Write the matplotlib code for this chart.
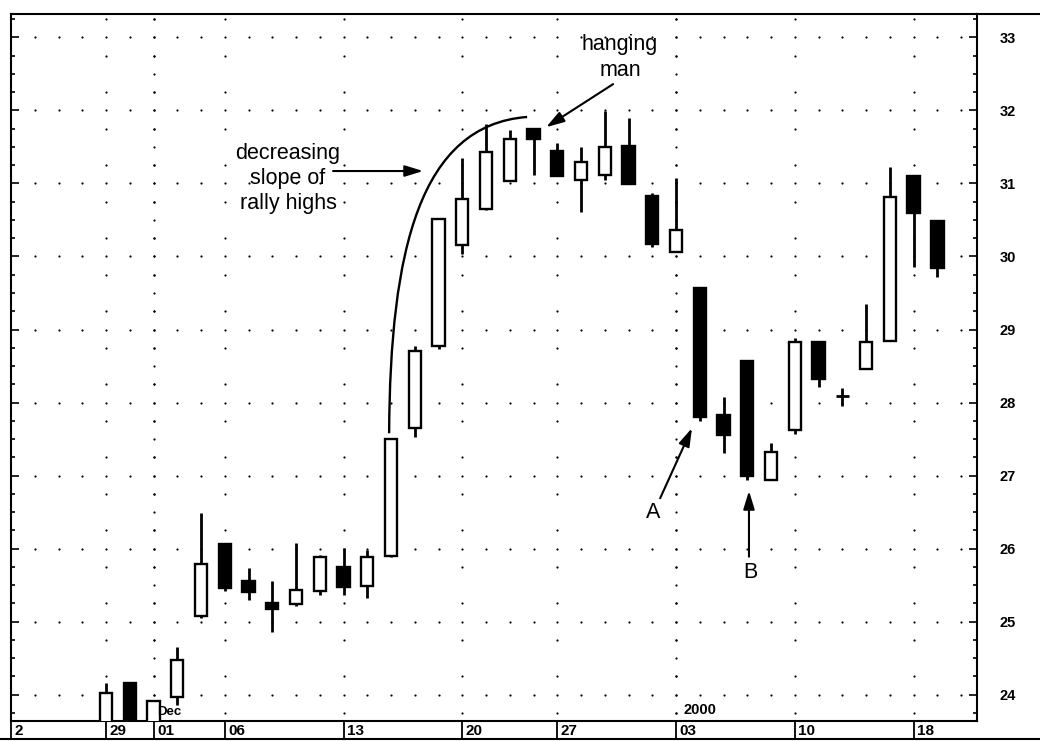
import matplotlib
matplotlib.use('Agg')
import matplotlib.pyplot as plt
import matplotlib.transforms as mtransforms
from matplotlib.path import Path
from matplotlib.patches import PathPatch
from matplotlib.lines import Line2D
import numpy as np

plt.rcParams['font.family'] = ['Liberation Sans', 'DejaVu Sans']

# trading day index, 0 = Mon 29 Nov 1999 (holidays skipped)
opens  = [23.50, 24.16, 23.50, 23.97, 25.08, 26.07, 25.56, 25.26, 25.24, 25.42,
          25.75, 25.49, 25.90, 27.65, 28.77, 30.16, 30.65, 31.03, 31.74, 31.44,
          31.05, 31.11, 31.51, 30.83, 30.06, 29.57, 27.83, 28.57, 26.94, 27.63,
          28.83, 28.09, 28.46, 28.84, 31.10, 30.48]
highs  = [24.16, 24.18, 23.92, 24.66, 26.49, 26.07, 25.74, 25.56, 26.08, 25.91,
          26.01, 25.98, 27.52, 28.77, 30.51, 31.35, 31.81, 31.73, 31.74, 31.56,
          31.50, 31.99, 31.89, 30.87, 31.07, 29.57, 28.08, 28.57, 27.45, 28.88,
          28.83, 28.20, 29.35, 31.22, 31.10, 30.48]
lows   = [23.40, 23.40, 23.45, 23.86, 25.05, 25.42, 25.30, 24.86, 25.22, 25.37,
          25.37, 25.33, 25.88, 27.53, 28.73, 30.03, 30.63, 31.03, 31.11, 31.10,
          30.61, 31.05, 30.99, 30.13, 30.06, 27.75, 27.31, 26.94, 26.94, 27.57,
          28.21, 27.95, 28.46, 28.84, 29.85, 29.72]
closes = [24.03, 23.50, 23.92, 24.47, 25.79, 25.46, 25.41, 25.18, 25.44, 25.89,
          25.48, 25.89, 27.50, 28.71, 30.51, 30.79, 31.43, 31.61, 31.61, 31.10,
          31.29, 31.50, 30.99, 30.17, 30.36, 27.80, 27.56, 27.00, 27.32, 28.83,
          28.32, 28.09, 28.83, 30.81, 30.59, 29.84]

week_idx = [-4, 0, 2, 5, 10, 15, 19, 24, 29, 34]
week_lbl = ['2', '29', '01', '06', '13', '20', '27', '03', '10', '18']
month_idx = [2, 24]
price_ticks = [24, 25, 26, 27, 28, 29, 30, 31, 32, 33]

x = np.arange(len(opens))
o = np.array(opens); c = np.array(closes)
h = np.array(highs); l = np.array(lows)

fig = plt.figure(figsize=(10.4, 7.41), dpi=100)
ax = fig.add_axes([11/1040, 1 - 721/741, 966/1040, 707/741])
ax.set_xlim(-4.0, 36.67)
ax.set_ylim(23.64, 33.32)

# dotted grid: daily dots on whole prices, half-points on week starts, quarters on month starts
days = np.arange(-3, 37)
gx, gy = np.meshgrid(days, price_ticks)
ax.scatter(gx.ravel(), gy.ravel(), s=2.5, c='k', linewidths=0, zorder=1)
halfs = np.arange(23.75, 33.3, 0.5)
for w in week_idx[1:]:
    ax.scatter(np.full(len(halfs), w), halfs, s=2.5, c='k', linewidths=0, zorder=1)
quarters = np.arange(23.75, 33.3, 0.25)
for m in month_idx:
    ax.scatter(np.full(len(quarters), m), quarters, s=2.5, c='k', linewidths=0, zorder=1)

# candles
ax.vlines(x, l, h, color='k', lw=2.0, zorder=2)
up = c > o
doji = c == o
bw = 0.52
ax.bar(x[up], (c - o)[up], bottom=o[up], width=bw, color='white', edgecolor='k', linewidth=1.7, zorder=3)
dn = (~up) & (~doji)
ax.bar(x[dn], (o - c)[dn], bottom=c[dn], width=bw, color='k', edgecolor='k', linewidth=1.7, zorder=3)
ax.hlines(c[doji], x[doji] - bw / 2, x[doji] + bw / 2, color='k', lw=2.0, zorder=3)

# curve of rally highs
verts = [(11.92, 27.58), (11.96, 30.09), (13.22, 31.80), (17.73, 31.91)]
ax.add_patch(PathPatch(Path(verts, [Path.MOVETO, Path.CURVE4, Path.CURVE4, Path.CURVE4]),
                       fill=False, lw=1.7, color='k', zorder=4))

aprops = dict(arrowstyle='-|>,head_length=0.55,head_width=0.17', lw=1.5, color='k',
              mutation_scale=20, shrinkA=0, shrinkB=0)
ax.annotate('', xy=(18.53, 31.77), xytext=(21.35, 32.36), arrowprops=aprops)
ax.annotate('', xy=(13.35, 31.17), xytext=(9.56, 31.17), arrowprops=aprops)
ax.annotate('', xy=(24.67, 27.65), xytext=(23.33, 26.69), arrowprops=aprops)
ax.annotate('', xy=(27.07, 26.79), xytext=(27.07, 25.89), arrowprops=aprops)

ax.text(21.64, 32.72, 'hanging\nman', fontsize=15.5, ha='center', va='center', linespacing=1.3)
ax.text(7.66, 31.07, 'decreasing\nslope of\nrally highs', fontsize=15.5, ha='center', va='center',
        linespacing=1.25)
ax.text(23.03, 26.49, 'A', fontsize=15.5, ha='center', va='center')
ax.text(27.12, 25.67, 'B', fontsize=15.5, ha='center', va='center')

# axes
for s in ax.spines.values():
    s.set_linewidth(1.5)
ax.yaxis.tick_right()
ax.set_yticks(price_ticks)
ax.set_yticks(np.arange(23.75, 33.3, 0.25), minor=True)
ax.tick_params(axis='y', which='both', direction='in', left=True, right=True, width=1.2)
ax.tick_params(axis='y', which='major', length=6, labelsize=10.5, pad=16)
ax.tick_params(axis='y', which='minor', length=3)
for t in ax.get_yticklabels():
    t.set_fontweight('bold')

ax.set_xticks(week_idx)
ax.set_xticklabels(week_lbl)
ax.tick_params(axis='x', direction='out', length=14, width=1.3, labelsize=11, pad=-12)
off = mtransforms.ScaledTranslation(2.5 / 72, 0, fig.dpi_scale_trans)
for t in ax.get_xticklabels():
    t.set_fontweight('bold')
    t.set_horizontalalignment('left')
    t.set_transform(t.get_transform() + off)

blend = mtransforms.blended_transform_factory(ax.transData, ax.transAxes)
ax.text(2.15, 0.004, 'Dec', transform=blend, fontsize=9.5, fontweight='bold', va='bottom', ha='left')
ax.text(24.3, 0.006, '2000', transform=blend, fontsize=10.5, fontweight='bold', va='bottom', ha='left')

fig.add_artist(Line2D([0, 1], [0.003, 0.003], color='k', lw=1.5))
fig.add_artist(Line2D([977/1040, 1], [1 - 14/741, 1 - 14/741], color='k', lw=1.5))

fig.savefig('out.png', dpi=100, facecolor='white')
